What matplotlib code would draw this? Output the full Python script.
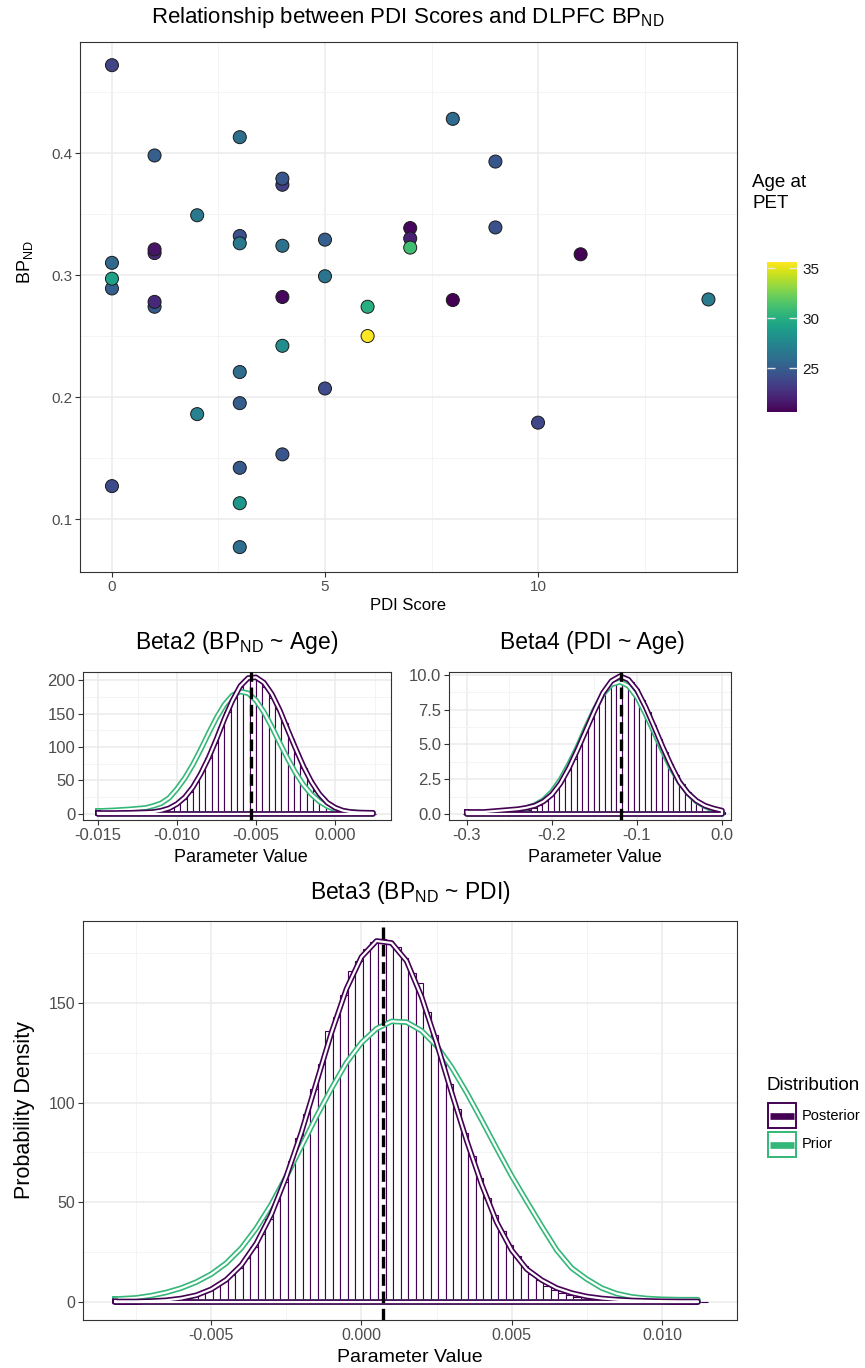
import matplotlib
matplotlib.use("Agg")
import matplotlib.pyplot as plt
import numpy as np
from matplotlib.patches import Rectangle

plt.rcParams['font.family'] = ['Liberation Sans', 'DejaVu Sans']
plt.rcParams['mathtext.fontset'] = 'custom'
plt.rcParams['mathtext.rm'] = 'Liberation Sans'
plt.rcParams['mathtext.it'] = 'Liberation Sans:italic'
plt.rcParams['mathtext.bf'] = 'Liberation Sans:bold'
plt.rcParams['axes.unicode_minus'] = False

# ---- scatter: PDI score vs DLPFC BPnd, coloured by age at PET ----
pdi = [0, 0, 0, 0, 0, 1, 1, 1, 1, 1, 2, 2, 3, 3, 3, 3, 3, 3, 3, 3, 4, 4, 4, 4, 4, 4,
       5, 5, 5, 6, 6, 7, 7, 7, 8, 8, 9, 9, 10, 11, 14]
bpnd = [0.472, 0.310, 0.289, 0.297, 0.127, 0.398, 0.318, 0.321, 0.274, 0.278, 0.349, 0.186,
        0.413, 0.332, 0.326, 0.2205, 0.195, 0.142, 0.113, 0.077, 0.374, 0.379, 0.324, 0.282,
        0.242, 0.153, 0.329, 0.299, 0.207, 0.274, 0.250, 0.3385, 0.330, 0.3225, 0.428, 0.2795,
        0.393, 0.339, 0.179, 0.317, 0.280]
age = [23.6, 25.6, 25.1, 29.2, 23.9, 25.1, 22.4, 21.4, 24.8, 22.3, 26.6, 27.2,
       26.0, 24.3, 26.6, 25.9, 25.0, 24.8, 28.5, 26.0, 23.5, 24.6, 26.2, 20.9,
       27.9, 24.6, 25.1, 26.3, 24.0, 30.0, 35.6, 20.9, 22.0, 31.0, 25.8, 20.6,
       24.6, 24.3, 23.8, 20.7, 26.8]

# ---- Beta2 (BPnd ~ Age) ----
b2_x = [-0.0150, -0.0140, -0.0130, -0.0120, -0.0115, -0.0110, -0.0105, -0.0100, -0.0095,
        -0.0090, -0.0085, -0.0080, -0.0075, -0.0070, -0.0065, -0.0060, -0.0055, -0.0050,
        -0.0045, -0.0040, -0.0035, -0.0030, -0.0025, -0.0020, -0.0015, -0.0010, -0.0005,
        0.0000, 0.0005, 0.0010, 0.0015, 0.0024]
b2_post = [1.5, 1.5, 1.8, 2.5, 3, 5, 8.5, 15, 25, 40, 60, 84, 112, 142, 169, 191, 203, 204,
           196, 179, 155, 126, 98, 71, 48, 30, 17, 9.5, 5, 3, 2.2, 1.8]
b2_prior = [4.5, 5.5, 7, 9, 12, 16, 24, 37.5, 53.8, 73.6, 96.4, 120.6, 143.7, 163.3, 177,
            182.8, 180.3, 169.5, 152, 130, 106, 82.7, 61.5, 43.4, 29.3, 18.8, 11.5, 6.8,
            4.2, 2.8, 2, 1.5]
b2_hist_start = -0.0150
b2_hist_width = 0.0004
b2_hist = [0, 0, 0, 0.1, 0.1, 0.3, 0.6, 1.1, 1.9, 3.4, 5.8, 9.5, 14.9, 22.6, 33.5, 47.4,
           64.4, 84.1, 106, 130, 153, 173.5, 190, 201, 205, 201, 190, 173.5, 157, 136, 112,
           89, 68, 50, 35, 23.5, 15.5, 9.5, 5.8, 3.4, 1.9, 1.1, 0.6, 0.3]
b2_mean = -0.0053

# ---- Beta4 (PDI ~ Age) ----
b4_x = [-0.30, -0.29, -0.28, -0.27, -0.26, -0.25, -0.24, -0.23, -0.22, -0.21, -0.20,
        -0.19, -0.18, -0.17, -0.16, -0.15, -0.14, -0.13, -0.12, -0.11, -0.10, -0.09,
        -0.08, -0.07, -0.06, -0.05, -0.04, -0.03, -0.02, -0.01, 0.00]
b4_post = [0.15, 0.15, 0.15, 0.2, 0.25, 0.3, 0.35, 0.45, 0.6, 0.9, 1.4, 2.2, 3.3, 4.6, 6.0,
           7.4, 8.7, 9.55, 9.9, 9.65, 8.9, 7.7, 6.3, 4.85, 3.5, 2.3, 1.5, 0.95, 0.6, 0.4, 0.25]
b4_prior = [0.1, 0.1, 0.1, 0.12, 0.15, 0.2, 0.3, 0.42, 0.65, 1.0, 1.6, 2.46, 3.56, 4.8, 6.2,
            7.5, 8.6, 9.3, 9.5, 9.2, 8.4, 7.2, 5.9, 4.55, 3.3, 2.3, 1.5, 0.9, 0.55, 0.3, 0.15]
b4_hist_start = -0.305
b4_hist_width = 0.0067
b4_hist = [0, 0, 0, 0, 0, 0.01, 0.02, 0.04, 0.07, 0.12, 0.19, 0.29, 0.44, 0.65, 0.94, 1.33,
           1.82, 2.42, 3.14, 3.97, 4.89, 5.86, 6.83, 7.76, 8.58, 9.24, 9.69, 9.89, 9.83, 9.51,
           8.96, 8.22, 7.35, 6.39, 5.41, 4.46, 3.57, 2.79, 2.13, 1.58, 1.14, 0.8, 0.55, 0.36,
           0.24, 0.15]
b4_mean = -0.119

# ---- Beta3 (BPnd ~ PDI) ----
b3_x = [-0.0082, -0.0075, -0.0070, -0.0065, -0.0060, -0.0055, -0.0050, -0.0045, -0.0040,
        -0.0035, -0.0030, -0.0025, -0.0020, -0.0015, -0.0010, -0.0005, 0.0000, 0.0005,
        0.0010, 0.0015, 0.0020, 0.0025, 0.0030, 0.0035, 0.0040, 0.0045, 0.0050, 0.0055,
        0.0060, 0.0065, 0.0070, 0.0075, 0.0080, 0.0085, 0.0090, 0.0095, 0.0100, 0.0106, 0.0112]
b3_post = [0.3, 0.3, 0.5, 0.9, 1.8, 3.4, 6.4, 11.2, 18.5, 29.4, 44, 63, 85, 110, 135, 157,
           173, 181, 180, 171, 153, 130, 105, 81, 59, 40, 26, 16.5, 11, 7, 4.5, 2.8, 1.8,
           1.2, 0.8, 0.6, 0.4, 0.3, 0.3]
b3_prior = [1.5, 2.1, 3.2, 4.8, 7, 10, 14, 19.5, 27, 37, 49, 63, 78, 93, 107, 120, 130, 137,
            140.7, 140.3, 136, 128.4, 117.7, 105, 91.2, 77, 63.2, 50.5, 38, 26, 17, 11.5, 7,
            4.2, 2.6, 1.8, 1.4, 1.2, 1.2]
b3_hist_start = -0.0082
b3_hist_width = 0.00025
b3_hist = [0, 0, 0, 0, 0.1, 0.2, 0.3, 0.5, 0.8,
           2.2, 3.1, 4.3, 5.8, 7.8, 10.3, 13.4, 17.3, 22, 27.6, 34.1, 41.8, 50.4, 60.1, 70.7,
           82.2, 94.2, 106.6, 119.2, 136, 143.1, 153.8, 166, 171, 176.9, 180.6, 182, 181,
           177.8, 172.4, 165, 160, 145.4, 133.8, 121.6, 109.2, 96.7, 84.5, 73, 62.2, 52.3,
           43.4, 35.6, 28.8, 23, 18.1, 14.1, 10.8, 8.2, 6.2, 4.6, 3.3, 2.4, 1.7, 1.2, 0.8, 0.5,
           0.3, 0.2, 0.2, 0.1, 0.1, 0, 0, 0, 0, 0, 0, 0, 0]
b3_mean = 0.00073

POST = '#440154'
PRIOR = '#35B779'
W, H = 865, 1368


def frac(x0, y0, x1, y1):
    return [x0 / W, 1 - y1 / H, (x1 - x0) / W, (y1 - y0) / H]


def style(ax, xt, xl, xm, yt, yl, ym, xlim, ylim, fs):
    ax.set_xlim(xlim)
    ax.set_ylim(ylim)
    ax.set_xticks(xt)
    ax.set_xticklabels(xl)
    ax.set_xticks(xm, minor=True)
    ax.set_yticks(yt)
    ax.set_yticklabels(yl)
    ax.set_yticks(ym, minor=True)
    ax.grid(which='major', color='#EBEBEB', lw=1.1)
    ax.grid(which='minor', color='#F3F3F3', lw=0.6)
    ax.set_axisbelow(True)
    ax.tick_params(which='minor', length=0)
    ax.tick_params(which='major', length=3.5, width=0.8, color='#333333',
                   labelcolor='#4D4D4D', labelsize=fs, pad=2)
    for s in ax.spines.values():
        s.set_color('#333333')
        s.set_linewidth(0.8)


def density(ax, x, y, color, z):
    xs = list(x) + [x[-1], x[0], x[0]]
    ys = list(y) + [0, 0, y[0]]
    ax.plot(xs, ys, color=color, lw=4.0, zorder=z, solid_joinstyle='round')
    ax.plot(xs, ys, color='white', lw=1.6, zorder=z + 0.1, solid_joinstyle='round')


def panel(ax, hstart, hwidth, hist, x, post, prior, mean):
    edges = hstart + hwidth * np.arange(len(hist))
    ax.bar(edges, hist, width=hwidth, align='edge', color='white', edgecolor=POST,
           linewidth=0.8, zorder=2)
    density(ax, x, prior, PRIOR, 3)
    density(ax, x, post, POST, 3.3)
    ax.axvline(mean, color='black', lw=2.4, ls=(0, (3.5, 1.7)), zorder=5)


fig = plt.figure(figsize=(W / 100, H / 100), dpi=100)

# top scatter
ax0 = fig.add_axes(frac(80, 42, 737, 572))
sc = ax0.scatter(pdi, bpnd, c=age, cmap='viridis', vmin=min(age), vmax=max(age), s=88,
                 edgecolors='#1A1A1A', linewidths=0.7, zorder=3)
style(ax0, [0, 5, 10], ['0', '5', '10'], [2.5, 7.5, 12.5],
      [0.1, 0.2, 0.3, 0.4], ['0.1', '0.2', '0.3', '0.4'], [0.15, 0.25, 0.35, 0.45],
      (-0.75, 14.67), (0.0566, 0.491), 11)
fig.text(408 / W, 1 - 18 / H, r'Relationship between PDI Scores and DLPFC BP$_{\mathrm{ND}}$',
         ha='center', va='center', fontsize=16)
fig.text(408 / W, 1 - 606 / H, 'PDI Score', ha='center', va='center', fontsize=12)
fig.text(25 / W, 1 - 262 / H, r'BP$_{\mathrm{ND}}$', ha='center', va='center',
         rotation=90, fontsize=13)

# colour bar
cax = fig.add_axes(frac(767, 262, 797, 412))
cb = fig.colorbar(sc, cax=cax)
cb.set_ticks([25, 30, 35])
cb.outline.set_visible(False)
cax.yaxis.set_ticks_position('both')
cax.tick_params(direction='in', length=6, width=1, color='#E6E6E6', labelcolor='#1A1A1A',
                labelsize=11, labelleft=False, labelright=True, pad=4)
fig.text(752 / W, 1 - 193 / H, 'Age at\nPET', ha='left', va='center', fontsize=13.5,
         linespacing=1.3)

# Beta2
ax1 = fig.add_axes(frac(83, 672, 391, 820))
panel(ax1, b2_hist_start, b2_hist_width, b2_hist, b2_x, b2_post, b2_prior, b2_mean)
style(ax1, [-0.015, -0.010, -0.005, 0.000], ['-0.015', '-0.010', '-0.005', '0.000'],
      [-0.0125, -0.0075, -0.0025, 0.0025],
      [0, 50, 100, 150, 200], ['0', '50', '100', '150', '200'], [25, 75, 125, 175],
      (-0.01595, 0.00354), (-9, 212), 12)
fig.text(237 / W, 1 - 642 / H, r'Beta2 (BP$_{\mathrm{ND}}$ ~ Age)', ha='center',
         va='center', fontsize=16.5)
fig.text(241 / W, 1 - 858 / H, 'Parameter Value', ha='center', va='center', fontsize=13)

# Beta4
ax2 = fig.add_axes(frac(449, 672, 731, 820))
panel(ax2, b4_hist_start, b4_hist_width, b4_hist, b4_x, b4_post, b4_prior, b4_mean)
style(ax2, [-0.3, -0.2, -0.1, 0.0], ['-0.3', '-0.2', '-0.1', '0.0'],
      [-0.25, -0.15, -0.05],
      [0, 2.5, 5, 7.5, 10], ['0.0', '2.5', '5.0', '7.5', '10.0'], [1.25, 3.75, 6.25, 8.75],
      (-0.321, 0.0106), (-0.43, 10.2), 12)
fig.text(592 / W, 1 - 642 / H, 'Beta4 (PDI ~ Age)', ha='center', va='center', fontsize=16.5)
fig.text(595 / W, 1 - 858 / H, 'Parameter Value', ha='center', va='center', fontsize=13)

# Beta3
ax3 = fig.add_axes(frac(83, 921, 737, 1320))
panel(ax3, b3_hist_start, b3_hist_width, b3_hist, b3_x, b3_post, b3_prior, b3_mean)
style(ax3, [-0.005, 0.0, 0.005, 0.010], ['-0.005', '0.000', '0.005', '0.010'],
      [-0.0075, -0.0025, 0.0025, 0.0075, 0.0125],
      [0, 50, 100, 150], ['0', '50', '100', '150'], [25, 75, 125, 175],
      (-0.00927, 0.01247), (-9, 191), 11.5)
fig.text(410 / W, 1 - 893 / H, r'Beta3 (BP$_{\mathrm{ND}}$ ~ PDI)', ha='center',
         va='center', fontsize=16.5)
fig.text(410 / W, 1 - 1357 / H, 'Parameter Value', ha='center', va='center', fontsize=14)
fig.text(25 / W, 1 - 1110 / H, 'Probability Density', ha='center', va='center',
         rotation=90, fontsize=15.5)

# distribution legend
lax = fig.add_axes(frac(766, 1074, 865, 1162))
lax.set_xlim(0, 99)
lax.set_ylim(88, 0)
lax.axis('off')
lax.text(1, 12, 'Distribution', ha='left', va='center', fontsize=13.5)
for yk, col, lab in [(29, POST, 'Posterior'), (58, PRIOR, 'Prior')]:
    lax.add_patch(Rectangle((2, yk), 28, 25, facecolor='white', edgecolor=col, lw=1.4))
    lax.plot([4, 28], [yk + 12.5, yk + 12.5], color=col, lw=4.8, solid_capstyle='butt')
    lax.text(36, yk + 12.5, lab, ha='left', va='center', fontsize=10.5)

fig.savefig('out.png', dpi=100)
